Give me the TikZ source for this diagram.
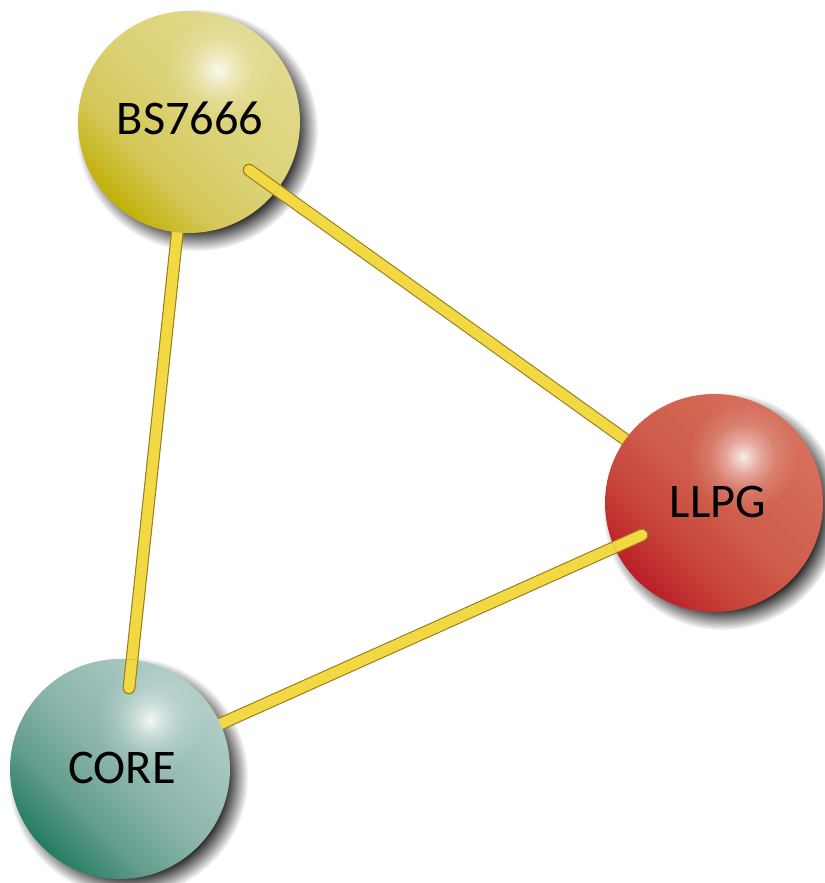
\documentclass[tikz,border=0pt]{standalone}
\usepackage{fontspec}
\setmainfont{Carlito}
\usetikzlibrary{fadings,calc}
\definecolor{bsA}{RGB}{194,176,8}
\definecolor{bsB}{RGB}{211,199,88}
\definecolor{bsC}{RGB}{219,209,116}
\definecolor{bsD}{RGB}{226,218,142}
\definecolor{llA}{RGB}{188,30,40}
\definecolor{llB}{RGB}{199,68,58}
\definecolor{llC}{RGB}{206,92,74}
\definecolor{llD}{RGB}{214,112,92}
\definecolor{coA}{RGB}{36,124,99}
\definecolor{coB}{RGB}{98,157,141}
\definecolor{coC}{RGB}{138,180,171}
\definecolor{coD}{RGB}{177,205,200}
\definecolor{tubey}{RGB}{242,216,66}
\definecolor{tubed}{RGB}{150,125,25}
\pgfdeclareverticalshading{bsgrad}{100bp}{color(0bp)=(bsA); color(25bp)=(bsA); color(37bp)=(bsB); color(50bp)=(bsC); color(75bp)=(bsD); color(100bp)=(bsD)}
\pgfdeclareverticalshading{llgrad}{100bp}{color(0bp)=(llA); color(25bp)=(llA); color(37bp)=(llB); color(50bp)=(llC); color(75bp)=(llD); color(100bp)=(llD)}
\pgfdeclareverticalshading{cograd}{100bp}{color(0bp)=(coA); color(25bp)=(coA); color(37bp)=(coB); color(50bp)=(coC); color(75bp)=(coD); color(100bp)=(coD)}
\pgfdeclareradialshading{shfadesh}{\pgfpointorigin}{color(0bp)=(white); color(20bp)=(white); color(25bp)=(black); color(50bp)=(black)}
\pgfdeclarefading{shfade}{\pgfuseshading{shfadesh}}
\pgfdeclareradialshading{glowsh}{\pgfpointorigin}{color(0bp)=(white!90!black); color(2.5bp)=(white!72!black); color(8bp)=(white!42!black); color(15bp)=(white!16!black); color(25bp)=(black); color(50bp)=(black)}
\pgfdeclarefading{glowfade}{\pgfuseshading{glowsh}}
\tikzset{
  tube/.style={line width=1.1bp, draw=tubed, double=tubey, double distance=10.5bp, line cap=round},
  sphshadow/.style={fill=black, opacity=0.9, path fading=shfade},
  glow/.style={fill=white, path fading=glowfade},
  lbl/.style={font=\fontsize{48.5}{58}\selectfont, text=black, inner sep=0pt}
}
\begin{document}
\begin{tikzpicture}[x=1bp,y=-1bp]
\useasboundingbox (0,0) rectangle (825,883);
\coordinate (bsc) at (189,122);
\coordinate (llc) at (714,503);
\coordinate (coc) at (120,769);
\coordinate (bsend) at (249,170);
\coordinate (llend) at (642,535);
\coordinate (coend) at (129,688);
% shadows
\fill[sphshadow] ($(bsc)+(8,8)$) circle [radius=121];
\fill[sphshadow] ($(llc)+(8,8)$) circle [radius=119];
\fill[sphshadow] ($(coc)+(8,8)$) circle [radius=120];
% connectors (full)
\draw[tube] (bsend) -- (llc);
\draw[tube] (coend) -- (bsc);
\draw[tube] (llend) -- (coc);
% spheres
\shade[shading=bsgrad, shading angle=-45] (bsc) circle [radius=111];
\shade[shading=llgrad, shading angle=-45] (llc) circle [radius=109];
\shade[shading=cograd, shading angle=-45] (coc) circle [radius=110];
% highlights
\begin{scope}
\clip (bsc) circle [radius=111];
\fill[glow] ($(bsc)+(29,-52)$) circle [radius=55];
\end{scope}
\begin{scope}
\clip (llc) circle [radius=109];
\fill[glow] ($(llc)+(29,-46)$) circle [radius=55];
\end{scope}
\begin{scope}
\clip (coc) circle [radius=110];
\fill[glow] ($(coc)+(30,-49)$) circle [radius=55];
\end{scope}
% visible connector ends
\begin{scope}
\clip (bsc) circle [radius=111];
\draw[tube] (bsend) -- (llc);
\end{scope}
\begin{scope}
\clip (coc) circle [radius=110];
\draw[tube] (coend) -- (bsc);
\end{scope}
\begin{scope}
\clip (llc) circle [radius=109];
\draw[tube] (llend) -- (coc);
\end{scope}
% labels
\node[lbl] (bst) at (190,118) {BS7666};
\node[lbl] (llt) at (718,502) {LLPG};
\node[lbl] (cot) at (122,768) {CORE};
\end{tikzpicture}
\end{document}
